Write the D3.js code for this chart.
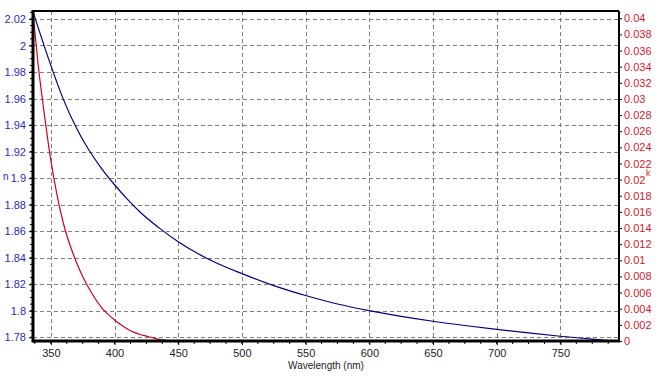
<!DOCTYPE html>
<html>
<head>
<meta charset="utf-8">
<script src="https://cdn.jsdelivr.net/npm/d3@7"></script>
<style>
  body { margin: 0; background: #fff; }
  svg text { font-family: "Liberation Sans", Arial, sans-serif; }
</style>
</head>
<body>
<div id="chart"></div>
<script>
// refractive index n (left axis)
const nWave = [336, 350, 360, 370, 380, 390, 400, 410, 420, 435, 450, 465, 480, 500, 525, 550, 575, 600, 625, 650, 675, 700, 725, 750, 775, 788];
const nVals = [2.0255, 1.985, 1.959, 1.938, 1.921, 1.907, 1.895, 1.8842, 1.8745, 1.8625, 1.852, 1.8433, 1.836, 1.828, 1.819, 1.8115, 1.8051, 1.8001, 1.7958, 1.7921, 1.7889, 1.786, 1.7833, 1.7808, 1.7786, 1.7775];

// extinction coefficient k (right axis)
const kWave = [336, 340, 345, 350, 355, 360, 365, 370, 375, 380, 385, 390, 395, 400, 405, 410, 415, 420, 425, 430, 435, 440];
const kVals = [0.0406, 0.0343, 0.0280, 0.0224, 0.0180, 0.0145, 0.0119, 0.0098, 0.0080, 0.0065, 0.0052, 0.0041, 0.0033, 0.0026, 0.0020, 0.0015, 0.0011, 0.0008, 0.0006, 0.0004, 0.0002, 0.0001];

const xTicks = [350, 400, 450, 500, 550, 600, 650, 700, 750];
const nTicks = [1.78, 1.8, 1.82, 1.84, 1.86, 1.88, 1.9, 1.92, 1.94, 1.96, 1.98, 2, 2.02];
const kTicks = d3.range(0, 21).map(i => +(i * 0.002).toFixed(3));

const W = 660, H = 377;
const pLeft = 33, pRight = 619, pTop = 11, pBottom = 341;

const svg = d3.select("#chart").append("svg")
    .attr("width", W)
    .attr("height", H);

svg.append("rect").attr("width", W).attr("height", H).attr("fill", "#fff");

const x = d3.scaleLinear().domain([336, 796]).range([pLeft, pRight]);
const yN = d3.scaleLinear().domain([1.7772, 2.026]).range([pBottom, pTop]);
const yK = d3.scaleLinear().domain([0, 0.0409]).range([pBottom, pTop]);

const blue = "#000080", red = "#cc0020";
const blueTxt = "#2b2bc4", redTxt = "#d8202a";

// grid
const grid = svg.append("g")
    .attr("stroke", "#808080")
    .attr("stroke-width", 1)
    .attr("stroke-dasharray", "4,3");

grid.selectAll(".vg").data(xTicks).join("line")
    .attr("x1", d => Math.round(x(d)) + 0.5).attr("x2", d => Math.round(x(d)) + 0.5)
    .attr("y1", pTop).attr("y2", pBottom);

grid.selectAll(".hg").data(nTicks).join("line")
    .attr("x1", pLeft).attr("x2", pRight)
    .attr("y1", d => Math.round(yN(d)) + 0.5).attr("y2", d => Math.round(yN(d)) + 0.5);

// curves
svg.append("clipPath").attr("id", "clip")
    .append("rect").attr("x", pLeft).attr("y", pTop)
    .attr("width", pRight - pLeft).attr("height", pBottom - pTop);

const plot = svg.append("g").attr("clip-path", "url(#clip)");

plot.append("path")
    .datum(d3.zip(nWave, nVals))
    .attr("fill", "none")
    .attr("stroke", blue)
    .attr("stroke-width", 1.2)
    .attr("d", d3.line().x(d => x(d[0])).y(d => yN(d[1])).curve(d3.curveMonotoneX));

plot.append("path")
    .datum(d3.zip(kWave, kVals))
    .attr("fill", "none")
    .attr("stroke", red)
    .attr("stroke-width", 1.2)
    .attr("d", d3.line().x(d => x(d[0])).y(d => yK(d[1])).curve(d3.curveMonotoneX));

// bottom axis
const xAxis = svg.append("g")
    .attr("transform", `translate(0,${pBottom})`)
    .call(d3.axisBottom(x).tickValues(xTicks).tickSize(4).tickPadding(4));
xAxis.select(".domain").remove();
xAxis.selectAll("text").attr("font-size", 11).attr("fill", "#222");
xAxis.selectAll(".minor").data(d3.range(337.5, 796, 12.5)).join("line")
    .attr("x1", d => x(d)).attr("x2", d => x(d))
    .attr("y1", 0).attr("y2", 3)
    .attr("stroke", "#000");

// left axis
const nAxis = svg.append("g")
    .attr("transform", `translate(${pLeft},0)`)
    .call(d3.axisLeft(yN).tickValues(nTicks).tickFormat(d3.format("~g")).tickSize(4).tickPadding(3));
nAxis.select(".domain").remove();
nAxis.selectAll("text").attr("font-size", 11).attr("fill", blueTxt);
nAxis.selectAll(".minor").data(d3.range(1.78, 2.026, 0.005)).join("line")
    .attr("x1", -3).attr("x2", 0)
    .attr("y1", d => yN(d)).attr("y2", d => yN(d))
    .attr("stroke", "#000");

// right axis
const kAxis = svg.append("g")
    .attr("transform", `translate(${pRight},0)`)
    .call(d3.axisRight(yK).tickValues(kTicks).tickFormat(d3.format("~g")).tickSize(3).tickPadding(2));
kAxis.select(".domain").remove();
kAxis.selectAll("text").attr("font-size", 11).attr("fill", redTxt);

// frame
svg.append("line").attr("x1", pLeft).attr("x2", pRight).attr("y1", pTop).attr("y2", pTop)
    .attr("stroke", "#000").attr("stroke-width", 2);
svg.append("line").attr("x1", pRight).attr("x2", pRight).attr("y1", pTop).attr("y2", pBottom)
    .attr("stroke", "#000").attr("stroke-width", 2);
svg.append("line").attr("x1", pLeft).attr("x2", pLeft).attr("y1", pTop - 1).attr("y2", pBottom + 1.5)
    .attr("stroke", "#000").attr("stroke-width", 3);
svg.append("line").attr("x1", pLeft).attr("x2", pRight + 1).attr("y1", pBottom).attr("y2", pBottom)
    .attr("stroke", "#000").attr("stroke-width", 3);

// axis titles
svg.append("text")
    .attr("x", 3).attr("y", 180)
    .attr("font-size", 10)
    .attr("fill", blueTxt)
    .text("n");

svg.append("text")
    .attr("x", 646).attr("y", 176)
    .attr("font-size", 9)
    .attr("fill", redTxt)
    .text("k");

svg.append("text")
    .attr("x", (pLeft + pRight) / 2).attr("y", 369)
    .attr("text-anchor", "middle")
    .attr("font-size", 10)
    .attr("fill", "#222")
    .text("Wavelength (nm)");
</script>
</body>
</html>
